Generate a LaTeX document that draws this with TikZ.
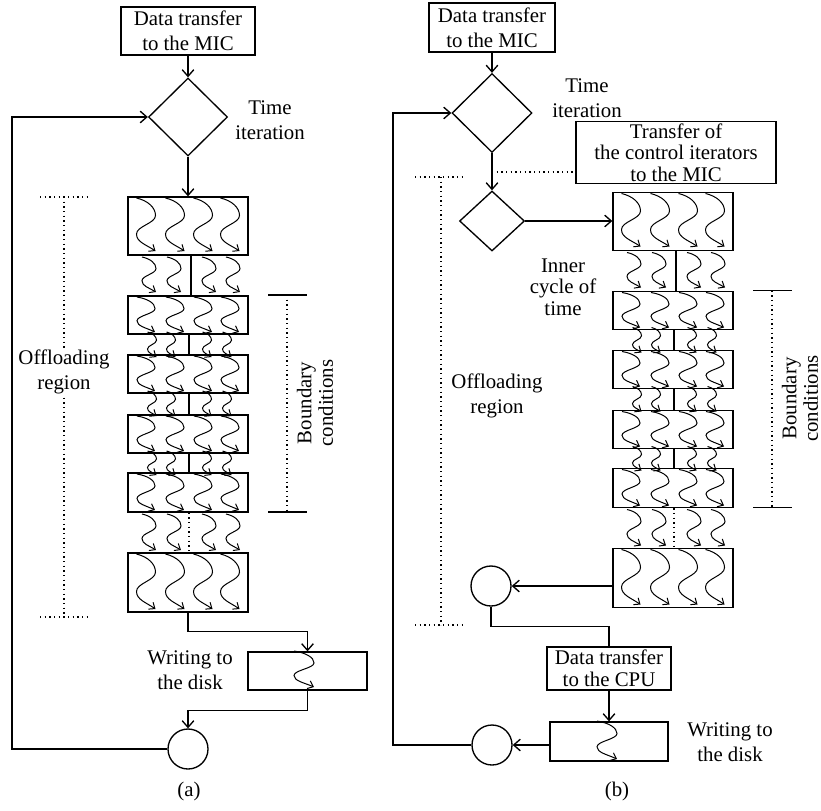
\documentclass[tikz,border=0pt]{standalone}
\usepackage{fontspec}
\setmainfont{Liberation Serif}
\usetikzlibrary{shapes.geometric,arrows.meta,fit,calc}
% wavy arrow: centre x, top y, height, half width
\newcommand\wv[4]{\draw[wavy] ({#1-#4},{#2}) .. controls ({#1+0.2*#4},{#2+0.05*#3}) and ({#1+#4},{#2+0.18*#3}) .. ({#1+#4},{#2+0.33*#3}) .. controls ({#1+#4},{#2+0.48*#3}) and ({#1-#4},{#2+0.53*#3}) .. ({#1-#4},{#2+0.68*#3}) .. controls ({#1-#4},{#2+0.83*#3}) and ({#1},{#2+0.88*#3}) .. ({#1+#4},{#2+#3});}
\newcommand\flowcol[1]{%
 \node[bx,fit={(128,197) (248,255)}] (#1B1) {};
 \node[bx,fit={(128,296) (248,334)}] (#1B2) {};
 \node[bx,fit={(128,355) (248,393)}] (#1B3) {};
 \node[bx,fit={(128,415) (248,453)}] (#1B4) {};
 \node[bx,fit={(128,473) (248,512)}] (#1B5) {};
 \node[bx,fit={(128,553) (248,612)}] (#1B6) {};
 \draw[ln] ([xshift=1.8pt]#1B1.south) -- ([xshift=1.8pt]#1B2.north);
 \draw[ln] ([xshift=0.6pt]#1B2.south) -- ([xshift=0.6pt]#1B3.north);
 \draw[ln] ([xshift=0.6pt]#1B3.south) -- ([xshift=0.6pt]#1B4.north);
 \draw[ln] ([xshift=0.6pt]#1B4.south) -- ([xshift=0.6pt]#1B5.north);
 \draw[dots] ([xshift=0.6pt]#1B5.south) -- ([xshift=0.6pt]#1B6.north);
 \foreach \c in {146,175,203,230} {%
   \wv{\c}{198}{53}{9.5} \wv{\c}{297}{35}{9} \wv{\c}{356}{35}{9}
   \wv{\c}{416}{35}{9} \wv{\c}{474}{36}{9} \wv{\c}{554}{55}{9.5}}
 \foreach \c in {149,174,209,233} {\wv{\c}{257}{35}{7} \wv{\c}{514}{36}{7}}
 \foreach \c in {152,171,207,227} {\wv{\c}{332}{25}{4.5} \wv{\c}{391}{25}{4.5} \wv{\c}{451}{24}{4.5}}
 % boundary conditions
 \coordinate (#1bt) at (287,295);
 \coordinate (#1bb) at (287,512);
 \draw[ln] ([xshift=-11.4pt]#1bt) -- ([xshift=12pt]#1bt);
 \draw[ln] ([xshift=-11.4pt]#1bb) -- ([xshift=12pt]#1bb);
 \draw[dots] (#1bt) -- (#1bb);
 \node[txt,tight,rotate=90] (#1bc) at (315,403) {Boundary\\conditions};
}
\begin{document}
\begin{tikzpicture}[x=0.6pt,y=-0.6pt,
  every node/.style={font=\fontsize{12.5pt}{15pt}\selectfont},
  bx/.style={draw,line width=0.8pt,inner sep=0pt,rectangle},
  dia/.style={draw,diamond,line width=0.8pt,inner sep=0pt},
  circ/.style={draw,circle,line width=0.8pt,inner sep=0pt,minimum size=24pt},
  arr/.style={line width=0.8pt,-{Straight Barb[length=4pt,width=7pt]}},
  ln/.style={line width=0.8pt},
  wavy/.style={line width=0.6pt,-{Straight Barb[length=3pt,width=5pt]}},
  dots/.style={line width=0.8pt,dotted},
  txt/.style={align=center,inner sep=1pt},
  tight/.style={font=\fontsize{12.5pt}{13pt}\selectfont}]
\useasboundingbox (0,0) rectangle (821,810);

% ---------------- (a) ----------------
\node[bx,txt,minimum width=80.4pt,minimum height=28.8pt] (ta) at (188,31) {Data transfer\\to the MIC};
\node[dia,minimum width=47.4pt,minimum height=46.8pt] (da) at (188,117) {};
\node[txt] (tia) at (270,120) {Time\\iteration};
\draw[arr] (ta.south) -- (da.north);
\flowcol{a}
\draw[arr] (da.south) -- (da.south |- aB1.north);
\node[bx,fit={(248,652) (367,690)}] (wda) {};
\wv{304}{651}{36}{10}
\node[txt] (wta) at (190,670) {Writing to\\the disk};
\node[circ] (ca) at (188,749) {};
\draw[arr] (aB6.south) -- ++(0,19) -| (wda.north);
\draw[arr] (wda.south) -- ++(0,20) -| (ca.north);
\coordinate (la) at (12,749);
\draw[arr] (ca.west) -- (la) |- (da.west);
\coordinate (oat) at (64,197);
\coordinate (oab) at (64,617);
\draw[dots] (oat) -- (oab);
\draw[dots] ([xshift=-14.4pt]oat) -- ([xshift=14.4pt]oat);
\draw[dots] ([xshift=-14.4pt]oab) -- ([xshift=14.4pt]oab);
\node[txt,fill=white] (ora) at (64,372) {Offloading\\region};
\node (capa) at (189,791) {(a)};

% ---------------- (b) ----------------
\node[bx,txt,minimum width=75.6pt,minimum height=29.4pt] (tb) at (492,27.5) {Data transfer\\to the MIC};
\node[dia,minimum width=48pt,minimum height=47.4pt] (db) at (492,113) {};
\node[txt] (tib) at (587,98) {Time\\iteration};
\draw[arr] (tb.south) -- (db.north);
\node[dia,minimum width=39pt,minimum height=36pt] (sdb) at (492,221) {};
\draw[arr] (db.south) -- (sdb.north);
\node[bx,txt,tight,minimum width=120pt,minimum height=36.6pt] (tcb) at (676,152.5) {Transfer of\\the control iterators\\to the MIC};
\coordinate (dotb) at (492,172);
\draw[dots] (dotb) -- (dotb -| tcb.west);
\node[txt,tight] (icb) at (563,287) {Inner\\cycle of\\time};
\begin{scope}[shift={(485,-4.5)}]
\flowcol{b}
\end{scope}
\draw[arr] (sdb.east) -- (sdb.east -| bB1.west);
\node[circ] (cb1) at (491,586) {};
\draw[arr] (bB6.west |- cb1) -- (cb1.east);
\node[bx,txt,tight,minimum width=74.4pt,minimum height=25.8pt] (cpub) at (609,668.5) {Data transfer\\to the CPU};
\draw[ln] (cb1.south) -- ++(0,20) -| (cpub.north);
\node[bx,fit={(550,722) (668,761)}] (wdb) {};
\wv{607}{721}{38}{10}
\draw[arr] (cpub.south) -- (cpub.south |- wdb.north);
\node[txt] (wtb) at (730,742) {Writing to\\the disk};
\node[circ] (cb2) at (492,745) {};
\draw[arr] (wdb.west |- cb2) -- (cb2.east);
\coordinate (lb) at (393,745);
\draw[arr] (cb2.west) -- (lb) |- (db.west);
\coordinate (obt) at (441,177);
\coordinate (obb) at (441,625);
\draw[dots] (obt) -- (obb);
\draw[dots] ([xshift=-15.6pt]obt) -- ([xshift=13.2pt]obt);
\draw[dots] ([xshift=-15.6pt]obb) -- ([xshift=13.2pt]obb);
\node[txt] (orb) at (497,396) {Offloading\\region};
\node (capb) at (617,791) {(b)};
\end{tikzpicture}
\end{document}
